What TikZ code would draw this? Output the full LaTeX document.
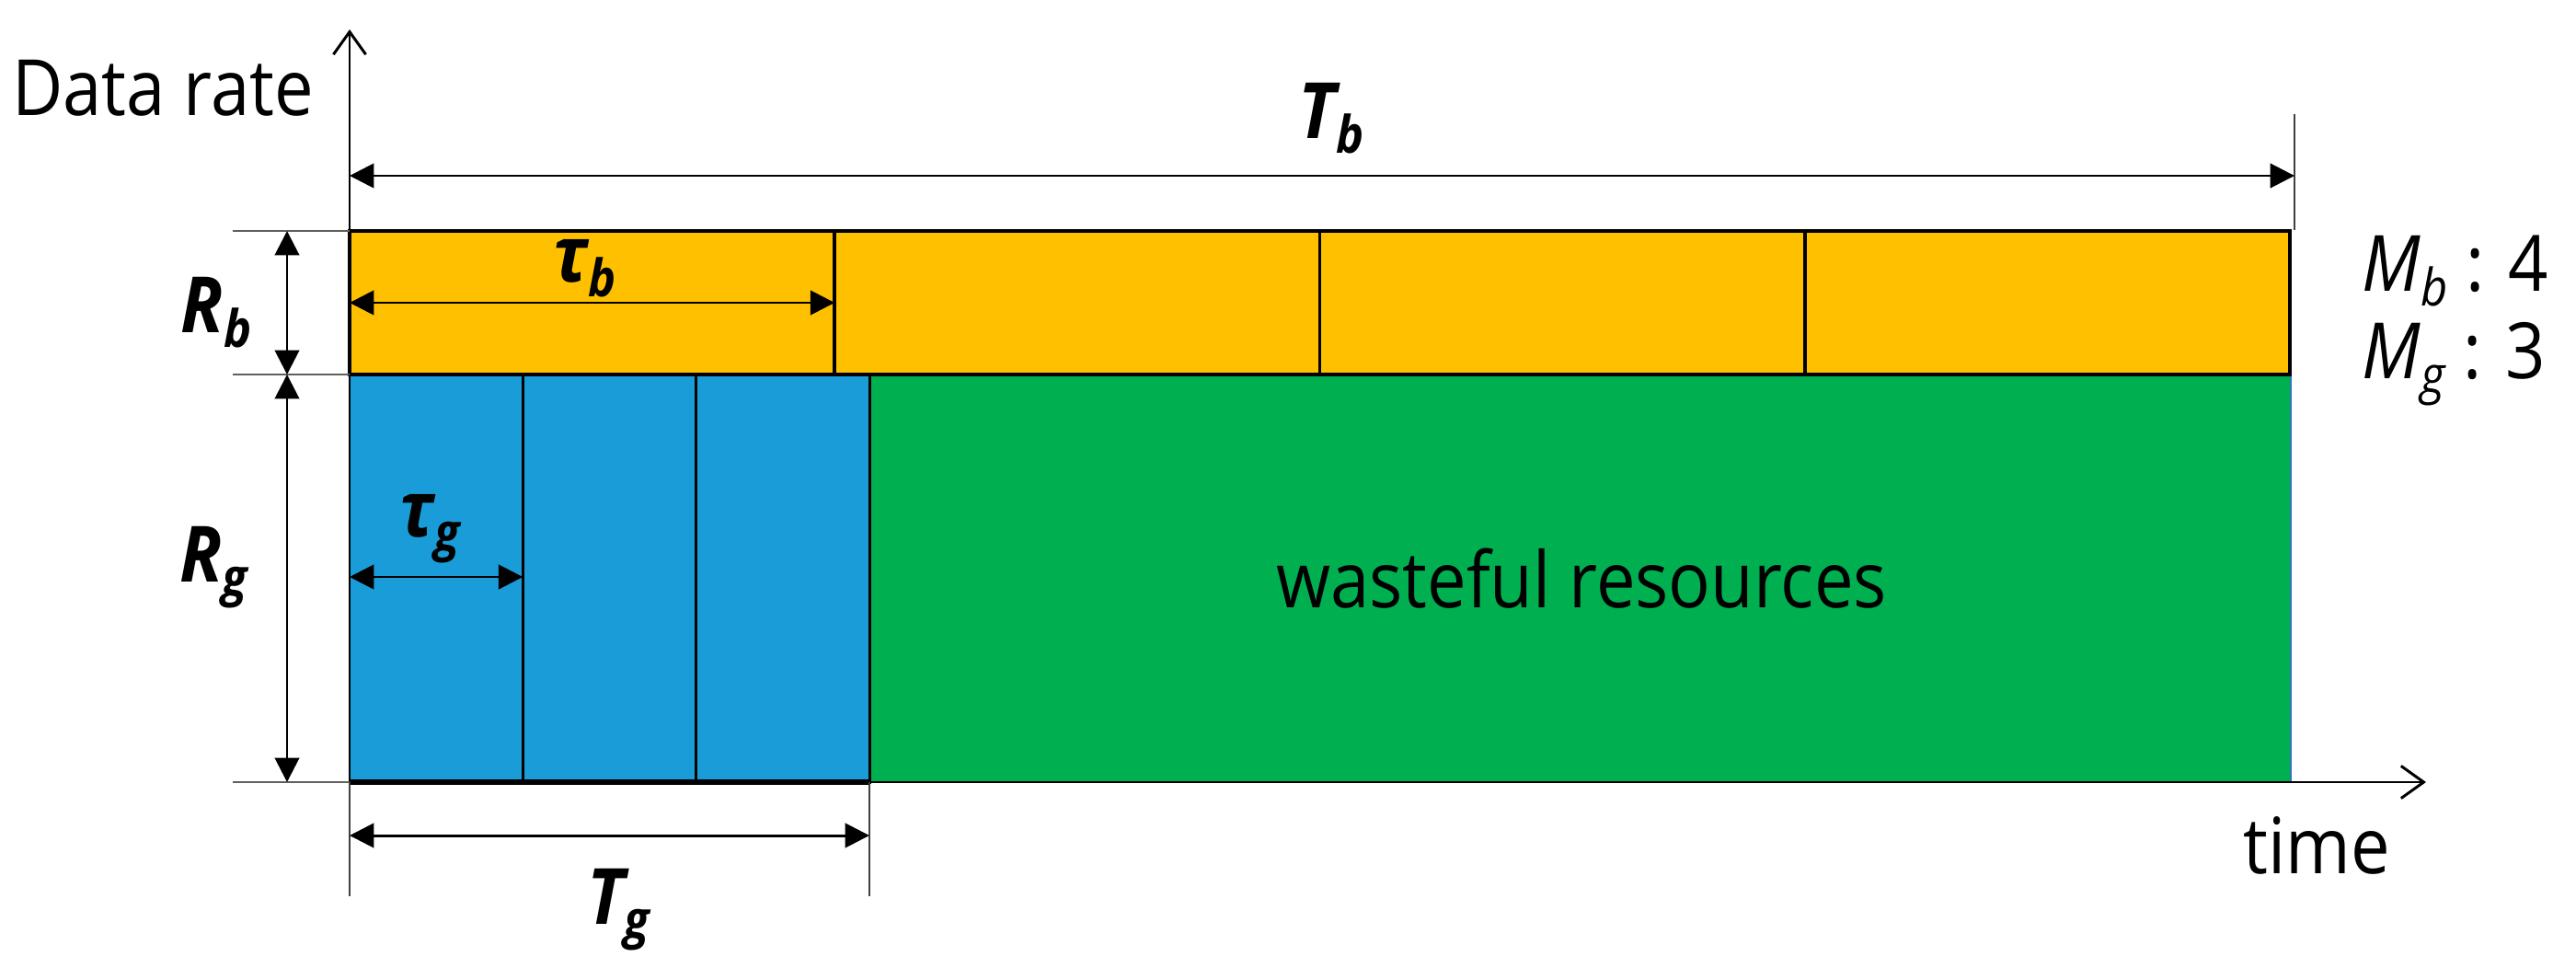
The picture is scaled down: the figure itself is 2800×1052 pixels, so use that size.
\documentclass[tikz,border=0pt]{standalone}
\usepackage{fontspec}
\setmainfont{Open Sans}[FakeStretch=0.9]
\usetikzlibrary{arrows.meta}
\definecolor{ybar}{HTML}{FFC000}
\definecolor{bbar}{HTML}{1A9CD9}
\definecolor{gbar}{HTML}{00B050}
\definecolor{tickgray}{HTML}{606060}
\definecolor{edgeblue}{HTML}{2E75B6}
\newcommand\dimlab[2]{\bfseries\itshape #1\raisebox{-4.5pt}{\fontsize{16}{16}\selectfont #2}}
\tikzset{
 dimarrow/.style={line width=0.85pt, {Triangle[length=7.5pt,width=7.5pt]}-{Triangle[length=7.5pt,width=7.5pt]}},
 axisline/.style={line width=0.85pt, -{Straight Barb[length=7pt,width=10pt]}},
 tickline/.style={line width=0.85pt, tickgray},
 extline/.style={line width=0.45pt, black!75},
 yslot/.style={draw=black, line width=1.1pt, fill=ybar, minimum width=5.2725cm, minimum height=1.56cm, anchor=north west, inner sep=0, outer sep=0},
 bslot/.style={draw=black, line width=0.85pt, fill=bbar, minimum width=1.8833cm, minimum height=4.43cm, anchor=north west, inner sep=0, outer sep=0},
 txt/.style={inner sep=0, anchor=base, font=\fontsize{24}{24}\selectfont},
 dlab/.style={inner sep=0, anchor=base, font=\fontsize{24}{24}\selectfont},
}
\begin{document}
\begin{tikzpicture}[x=0.01cm,y=-0.01cm]
\useasboundingbox (0,0) rectangle (2800,1052);
% regions
\node[draw=edgeblue, line width=0.6pt, fill=gbar, minimum width=15.44cm, minimum height=4.43cm, anchor=north west, inner sep=0, outer sep=0] (waste) at (945,407) {};
\node[txt] (wastetxt) at (1719,660) {wasteful resources};
\foreach \i in {0,1,2} \node[bslot] (g\i) at ({380+188.333*\i},407) {};
\foreach \i in {0,1,2,3} \node[yslot] (b\i) at ({380+527.25*\i},251) {};
% coordinates
\coordinate (O) at (380,850);
\coordinate (ytop) at (380,32);
\coordinate (xend) at (2637,850);
\coordinate (gend) at (945,850);
\coordinate (t1) at (253,251);
\coordinate (t2) at (253,407);
\coordinate (t3) at (253,850);
\coordinate (a1) at (380,251);
\coordinate (a2) at (380,407);
\coordinate (rb1) at (312,251);
\coordinate (rb2) at (312,407);
\coordinate (rg2) at (312,850);
\coordinate (tb1) at (380,191);
\coordinate (tb2) at (2494,191);
\coordinate (tbx1) at (2494,124);
\coordinate (tbx2) at (2494,250);
\coordinate (tab1) at (380,329);
\coordinate (tab2) at (907.25,329);
\coordinate (tag1) at (380,627);
\coordinate (tag2) at (568.3,627);
\coordinate (tg1) at (380,908);
\coordinate (tg2) at (945,908);
\coordinate (ex1) at (380,974);
\coordinate (ex2) at (945,974);
% axes
\draw[line width=1.7pt] (O) -- (gend);
\draw[axisline] (O) -- (ytop);
\draw[axisline] (O) -- (xend);
% ticks and extension lines
\draw[tickline] (t1) -- (a1);
\draw[tickline] (t2) -- (a2);
\draw[tickline] (t3) -- (O);
\draw[extline] (tbx1) -- (tbx2);
\draw[extline] (O) -- (ex1);
\draw[extline] (gend) -- (ex2);
% dimension arrows
\draw[dimarrow] (rb1) -- (rb2);
\draw[dimarrow] (rb2) -- (rg2);
\draw[dimarrow] (tb1) -- (tb2);
\draw[dimarrow] (tab1) -- (tab2);
\draw[dimarrow] (tag1) -- (tag2);
\draw[dimarrow] (tg1) -- (tg2);
% labels
\node[txt] (dr) at (177,126) {Data rate};
\node[txt] (time) at (2518,949) {time};
\node[dlab] (Tb) at (1447,151) {\dimlab{T}{b}};
\node[dlab] (Rb) at (235,362) {\dimlab{R}{b}};
\node[dlab] (Rg) at (232,632) {\dimlab{R}{g}};
\node[dlab] (taub) at (636,307) {\dimlab{τ}{b}};
\node[dlab] (taug) at (467,583) {\dimlab{τ}{g}};
\node[dlab] (Tg) at (672,1004) {\dimlab{T}{g}};
\node[txt, anchor=base west] (Mb) at (2567,317) {\itshape M\raisebox{-4.5pt}{\fontsize{16}{16}\selectfont b}\upshape\ : 4};
\node[txt, anchor=base west] (Mg) at (2567,412) {\itshape M\raisebox{-4.5pt}{\fontsize{16}{16}\selectfont g}\upshape\ : 3};
\end{tikzpicture}
\end{document}
